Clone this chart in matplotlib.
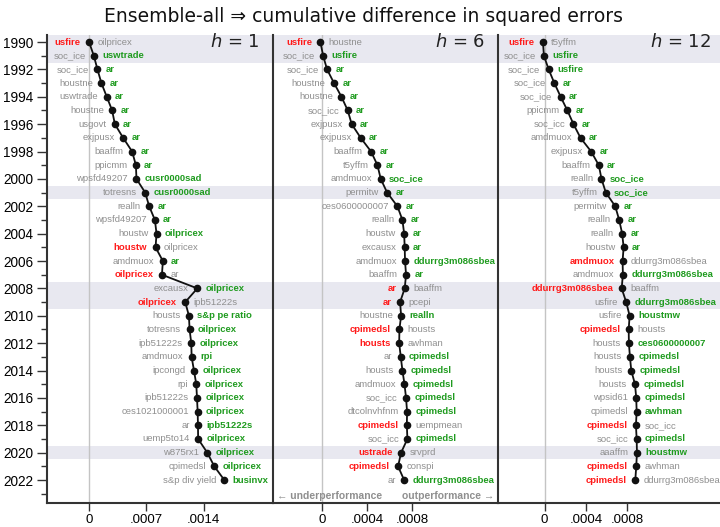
import numpy as np
import matplotlib.pyplot as plt
from matplotlib.transforms import blended_transform_factory

years = list(range(1990, 2023))

# cumulative difference in squared errors, one list per horizon
cum_h1 = [-0.000004, 0.000054, 0.000099, 0.000147, 0.000213, 0.000279, 0.000312,
          0.000414, 0.000524, 0.000570, 0.000577, 0.000684, 0.000733, 0.000803,
          0.000823, 0.000811, 0.000901, 0.000889, 0.001323, 0.001175, 0.001220,
          0.001228, 0.001249, 0.001253, 0.001282, 0.001310, 0.001319, 0.001327,
          0.001331, 0.001333, 0.001445, 0.001531, 0.001654]
cum_h6 = [-0.000015, 0.000009, 0.000044, 0.000106, 0.000172, 0.000228, 0.000263,
          0.000343, 0.000435, 0.000492, 0.000521, 0.000578, 0.000669, 0.000714,
          0.000729, 0.000734, 0.000737, 0.000746, 0.000734, 0.000693, 0.000702,
          0.000687, 0.000685, 0.000699, 0.000714, 0.000732, 0.000746, 0.000755,
          0.000753, 0.000758, 0.000702, 0.000675, 0.000729]
cum_h12 = [-0.000016, -0.000007, 0.000039, 0.000094, 0.000155, 0.000220, 0.000279,
           0.000347, 0.000450, 0.000524, 0.000550, 0.000592, 0.000683, 0.000721,
           0.000750, 0.000764, 0.000754, 0.000757, 0.000745, 0.000789, 0.000822,
           0.000813, 0.000815, 0.000825, 0.000838, 0.000874, 0.000886, 0.000890,
           0.000883, 0.000890, 0.000893, 0.000886, 0.000877]

left_h1 = ["usfire", "soc_ice", "soc_ice", "houstne", "uswtrade", "houstne", "usgovt",
           "exjpusx", "baaffm", "ppicmm", "wpsfd49207", "totresns", "realln",
           "wpsfd49207", "houstw", "houstw", "amdmuox", "oilpricex", "excausx",
           "oilpricex", "housts", "totresns", "ipb51222s", "amdmuox", "ipcongd", "rpi",
           "ipb51222s", "ces1021000001", "ar", "uemp5to14", "w875rx1", "cpimedsl",
           "s&p div yield"]
right_h1 = ["oilpricex", "uswtrade", "ar", "ar", "ar", "ar", "ar", "ar", "ar", "ar",
            "cusr0000sad", "cusr0000sad", "ar", "ar", "oilpricex", "oilpricex", "ar",
            "ar", "oilpricex", "ipb51222s", "s&p pe ratio", "oilpricex", "oilpricex",
            "rpi", "oilpricex", "oilpricex", "oilpricex", "oilpricex", "ipb51222s",
            "oilpricex", "oilpricex", "oilpricex", "businvx"]

left_h6 = ["usfire", "soc_ice", "soc_ice", "houstne", "houstne", "soc_icc", "exjpusx",
           "exjpusx", "baaffm", "t5yffm", "amdmuox", "permitw", "ces0600000007",
           "realln", "houstw", "excausx", "amdmuox", "baaffm", "ar", "ar", "houstne",
           "cpimedsl", "housts", "ar", "housts", "amdmuox", "soc_icc", "dtcolnvhfnm",
           "cpimedsl", "soc_icc", "ustrade", "cpimedsl", "ar"]
right_h6 = ["houstne", "usfire", "ar", "ar", "ar", "ar", "ar", "ar", "ar", "ar",
            "soc_ice", "ar", "ar", "ar", "ar", "ar", "ddurrg3m086sbea", "ar", "baaffm",
            "pcepi", "realln", "housts", "awhman", "cpimedsl", "cpimedsl", "cpimedsl",
            "cpimedsl", "cpimedsl", "uempmean", "cpimedsl", "srvprd", "conspi",
            "ddurrg3m086sbea"]

left_h12 = ["usfire", "soc_ice", "soc_ice", "soc_ice", "soc_ice", "ppicmm", "soc_icc",
            "amdmuox", "exjpusx", "baaffm", "realln", "t5yffm", "permitw", "realln",
            "realln", "houstw", "amdmuox", "amdmuox", "ddurrg3m086sbea", "usfire",
            "usfire", "cpimedsl", "housts", "housts", "housts", "housts", "wpsid61",
            "cpimedsl", "cpimedsl", "soc_icc", "aaaffm", "cpimedsl", "cpimedsl"]
right_h12 = ["t5yffm", "usfire", "usfire", "ar", "ar", "ar", "ar", "ar", "ar", "ar",
             "soc_ice", "soc_ice", "ar", "ar", "ar", "ar", "ddurrg3m086sbea",
             "ddurrg3m086sbea", "baaffm", "ddurrg3m086sbea", "houstmw", "housts",
             "ces0600000007", "cpimedsl", "cpimedsl", "cpimedsl", "cpimedsl", "awhman",
             "soc_icc", "cpimedsl", "houstmw", "awhman", "ddurrg3m086sbea"]

horizons = ["1", "6", "12"]
xticks_h1 = [0, 0.0007, 0.0014]
xticks_h6 = [0, 0.0004, 0.0008]
xticks_h12 = [0, 0.0004, 0.0008]
xtick_labels_h1 = ["0", ".0007", ".0014"]
xtick_labels_h6 = ["0", ".0004", ".0008"]
xtick_labels_h12 = ["0", ".0004", ".0008"]

# recession bands (start, end year)
bands = [(1990, 1991), (2001, 2001), (2008, 2009), (2020, 2020)]

GRAY = "#8f8f8f"
RED = "#ff1a1a"
GREEN = "#1f9b1f"
LABEL_FONT = ["Liberation Sans", "DejaVu Sans"]

plt.rcParams["font.family"] = LABEL_FONT
plt.rcParams["mathtext.fontset"] = "dejavusans"

W, H = 720, 527
fig = plt.figure(figsize=(W / 100, H / 100), dpi=100)

# panel geometry in pixels
left0 = 47.3
pw = 225.4
top_px, bot_px = 34.5, 503.3

panels = [
    (cum_h1, left_h1, right_h1, xticks_h1, xtick_labels_h1, (-0.000516, 0.002247)),
    (cum_h6, left_h6, right_h6, xticks_h6, xtick_labels_h6, (-0.000439, 0.001564)),
    (cum_h12, left_h12, right_h12, xticks_h12, xtick_labels_h12, (-0.00045, 0.00173)),
]

for i, (vals, lefts, rights, ticks, tlabels, xlim) in enumerate(panels):
    ax = fig.add_axes([(left0 + i * pw) / W, (H - bot_px) / H,
                       pw / W, (bot_px - top_px) / H])
    ax.set_xlim(*xlim)
    ax.set_ylim(2023.7, 1989.45)

    for a, b in bands:
        ax.axhspan(a - 0.5, b + 0.5, color="#e8e8f0", lw=0, zorder=0)
    ax.axvline(0, color="#c4c4c4", lw=1, zorder=1)

    ax.plot(vals, years, color="#111111", lw=1.3, marker="o", ms=4.5, zorder=3)

    diffs = np.diff(vals, prepend=0)
    for y, v, d, lt, rt in zip(years, vals, diffs, lefts, rights):
        if d < 0:
            lc, lw_, rc, rw = RED, "bold", GRAY, "normal"
        else:
            lc, lw_, rc, rw = GRAY, "normal", GREEN, "bold"
        ax.annotate(lt, (v, y), xytext=(-6, 0), textcoords="offset points",
                    ha="right", va="center", fontsize=6.8, color=lc, fontweight=lw_)
        ax.annotate(rt, (v, y), xytext=(6, 0), textcoords="offset points",
                    ha="left", va="center", fontsize=6.8, color=rc, fontweight=rw)

    trans = blended_transform_factory(ax.transAxes, ax.transData)
    ax.text(0.943, 1990, "$h$ = " + horizons[i], transform=trans,
            ha="right", va="center", fontsize=13, color="#222222",
            family="DejaVu Sans")

    ax.set_xticks(ticks)
    ax.set_xticklabels(tlabels)
    ax.tick_params(axis="x", length=6, width=1, color="#333333", labelsize=9.5, pad=2)

    ax.spines["top"].set_visible(False)
    ax.spines["right"].set_visible(False)
    for s in ["left", "bottom"]:
        ax.spines[s].set_color("#333333")
        ax.spines[s].set_linewidth(1.5)

    if i == 0:
        ax.set_yticks(years[::2])
        ax.set_yticks(years[1::2] + [2023], minor=True)
        ax.set_yticklabels([str(y) for y in years[::2]])
        ax.tick_params(axis="y", which="major", length=7, width=1,
                       color="#333333", labelsize=9.8, pad=3)
        ax.tick_params(axis="y", which="minor", length=4.5, width=1,
                       color="#333333")
    else:
        ax.set_yticks([])

    if i == 1:
        ax.text(0.02, 2023.15, "\u2190 underperformance", ha="left", va="center",
                fontsize=7.5, color=GRAY, fontweight="bold",
                transform=blended_transform_factory(ax.transAxes, ax.transData))
        ax.text(0.985, 2023.15, "outperformance \u2192", ha="right", va="center",
                fontsize=7.5, color=GRAY, fontweight="bold",
                transform=blended_transform_factory(ax.transAxes, ax.transData))

fig.text(363.5 / W, 1 - 17 / H, "Ensemble-all \u21d2 cumulative difference in squared errors",
         ha="center", va="center", fontsize=13.5, family="DejaVu Sans", color="#111111")

fig.savefig("out.png", dpi=100)
